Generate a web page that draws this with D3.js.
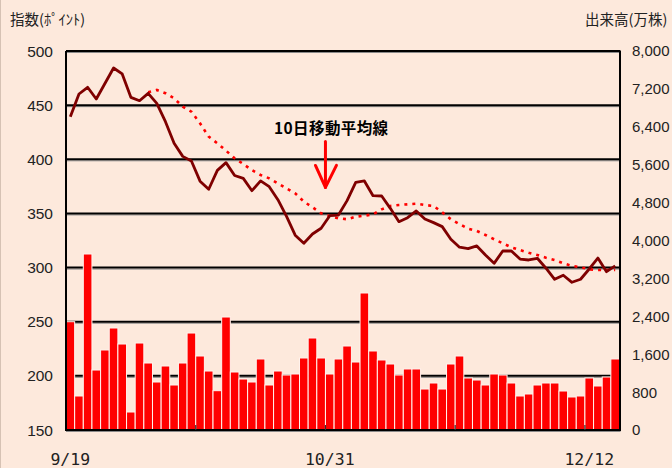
<!DOCTYPE html>
<html><head><meta charset="utf-8">
<script src="https://cdn.jsdelivr.net/npm/d3@7"></script>
<style>
html,body{margin:0;padding:0;background:#FDE9DC;}
svg{display:block;}
</style></head>
<body>
<svg id="chart" width="672" height="468"></svg>
<script>
// ---- data ----
const indexValues = [439.3,460.3,466.5,455.7,470.0,484.3,478.8,457.2,454.1,460.9,
  451.7,434.7,414.8,402.7,398.4,379.8,372.3,389.8,396.9,385.0,
  382.4,371.0,380.0,374.7,362.7,347.3,329.9,322.4,331.0,336.3,
  347.9,348.5,361.8,378.7,380.0,366.4,366.1,354.7,342.4,346.1,
  352.3,344.9,341.5,337.8,326.1,318.8,317.5,320.0,311.6,303.9,
  315.3,315.3,307.9,307.0,308.6,299.4,289.2,292.9,286.4,289.2,
  298.7,308.8,296.2,301.5];
const movingAvg10 = [null,null,null,null,null,null,null,null,null,461.9,
  464.0,461.0,456.3,448.6,444.0,433.2,420.9,414.8,408.0,400.9,
  395.6,390.0,385.5,382.4,377.8,373.2,368.6,360.9,355.7,350.1,
  347.5,345.5,344.6,347.0,347.9,349.2,353.8,356.9,357.8,358.4,
  359.0,357.8,356.9,351.0,344.6,340.2,336.0,333.8,330.1,326.1,
  322.4,318.7,316.2,313.7,311.6,309.1,307.0,303.9,301.5,300.3,
  298.4,297.8,297.8,297.8];
const volume = [2286,718,3715,1266,1689,2153,1815,380,1836,1414,
  1013,1351,950,1414,2047,1562,1245,830,2385,1224,
  1076,1013,1499,950,1245,1161,1182,1520,1942,1520,
  1182,1499,1773,1435,2892,1668,1478,1393,1161,1288,
  1288,865,992,865,1393,1562,1098,1055,950,1182,
  1161,992,718,760,950,992,992,823,697,718,
  1098,929,1119,1499];
const dayIndex = d3.range(volume.length);
const dateLabels = ["9/19","10/31","12/12"];
const dateLabelIndex = [0,30,60];
const leftTicks = [150,200,250,300,350,400,450,500];
const rightTicks = [0,800,1600,2400,3200,4000,4800,5600,6400,7200,8000];
const leftTitle = "指数(ﾎﾟｲﾝﾄ)";
const rightTitle = "出来高(万株)";
const annotationText = "10日移動平均線";

// ---- layout ----
const L = 66, R = 619.5, T = 51, B = 430;
const svg = d3.select("#chart");
const x = d3.scaleBand().domain(dayIndex).range([L, R]).paddingInner(0).paddingOuter(0);
const yL = d3.scaleLinear().domain([150, 500]).range([B, T]);
const yR = d3.scaleLinear().domain([0, 8000]).range([B, T]);
const cx = i => x(i) + x.bandwidth() / 2;

// left edge border
svg.append("line").attr("x1",0.5).attr("x2",0.5).attr("y1",0).attr("y2",468)
  .attr("stroke","#d6c2b4").attr("stroke-width",1);

// gridlines (left axis)
const grid = svg.append("g");
leftTicks.filter(v => v > 150 && v < 500).forEach(v => {
  grid.append("line").attr("x1", L).attr("x2", R).attr("y1", yL(v) + 1.5).attr("y2", yL(v) + 1.5)
    .attr("stroke", "#8a8a8a").attr("stroke-width", 1);
  grid.append("line").attr("x1", L).attr("x2", R).attr("y1", yL(v)).attr("y2", yL(v))
    .attr("stroke", "#000").attr("stroke-width", 2);
});

// bars
svg.append("g").selectAll("rect").data(volume).join("rect")
  .attr("x", (d, i) => x(i))
  .attr("y", d => yR(d))
  .attr("width", x.bandwidth())
  .attr("height", d => B - yR(d))
  .attr("fill", "#FF0000")
  .attr("stroke", "#FFF4EE")
  .attr("stroke-width", 1);

// plot frame
const frame = svg.append("g");
frame.append("line").attr("x1", L).attr("x2", R + 1).attr("y1", T + 1.5).attr("y2", T + 1.5).attr("stroke","#8a8a8a").attr("stroke-width",1);
frame.append("line").attr("x1", L).attr("x2", R + 1).attr("y1", T).attr("y2", T).attr("stroke","#000").attr("stroke-width",2);
frame.append("line").attr("x1", L).attr("x2", L).attr("y1", T).attr("y2", B + 1).attr("stroke","#000").attr("stroke-width",2);
frame.append("line").attr("x1", R + 0.5).attr("x2", R + 0.5).attr("y1", T).attr("y2", B + 1).attr("stroke","#000").attr("stroke-width",2);
frame.append("line").attr("x1", L).attr("x2", R + 1).attr("y1", B + 1.5).attr("y2", B + 1.5).attr("stroke","#8a8a8a").attr("stroke-width",1);
frame.append("line").attr("x1", L).attr("x2", R + 1).attr("y1", B).attr("y2", B).attr("stroke","#000").attr("stroke-width",2);

// bottom tick marks every 15 days
[15,30,45,60].forEach(i => {
  frame.append("line").attr("x1", x(i)).attr("x2", x(i)).attr("y1", B).attr("y2", B - 5)
    .attr("stroke", "#333").attr("stroke-width", 1.2);
});

// moving average (dotted red)
const maLine = d3.line().defined(d => d != null).x((d, i) => cx(i)).y(d => yL(d));
svg.append("path").datum(movingAvg10).attr("d", maLine)
  .attr("fill","none").attr("stroke","#FF0000").attr("stroke-width",2.6)
  .attr("stroke-dasharray","3,5");

// index line
const idxLine = d3.line().x((d, i) => cx(i)).y(d => yL(d));
svg.append("path").datum(indexValues).attr("d", idxLine)
  .attr("fill","none").attr("stroke","#7F0000").attr("stroke-width",2.8)
  .attr("stroke-linejoin","round");

// left axis labels
svg.append("g").selectAll("text").data(leftTicks).join("text")
  .attr("x", 53).attr("y", d => yL(d)).attr("dy", "0.36em")
  .attr("text-anchor","end")
  .attr("font-family","'Liberation Sans', Arial, sans-serif")
  .attr("font-size", 15.5).attr("fill","#222")
  .text(d => d);

// right axis labels
svg.append("g").selectAll("text").data(rightTicks).join("text")
  .attr("x", 632).attr("y", d => yR(d)).attr("dy", "0.36em")
  .attr("text-anchor","start")
  .attr("font-family","'Liberation Sans Narrow', 'Liberation Sans', Arial, sans-serif")
  .attr("font-size", 15).attr("fill","#222")
  .text(d => d3.format(",")(d));

// x labels
svg.append("g").selectAll("text").data(dateLabels).join("text")
  .attr("x", (d, k) => cx(dateLabelIndex[k])).attr("y", 465)
  .attr("text-anchor","middle")
  .attr("font-family","'DejaVu Sans Mono', monospace")
  .attr("font-size", 16.5).attr("fill","#222")
  .text(d => d);

// axis titles
svg.append("text").attr("x", 10).attr("y", 25)
  .attr("font-family","'Noto Sans CJK JP', sans-serif").attr("font-size", 14.5).attr("fill","#222")
  .text(leftTitle);
svg.append("text").attr("x", 585).attr("y", 25)
  .attr("font-family","'Noto Sans CJK JP', sans-serif").attr("font-size", 14.5).attr("fill","#222")
  .text(rightTitle);

// annotation
svg.append("text").attr("x", 274).attr("y", 134)
  .attr("font-family","'Noto Sans CJK JP', sans-serif").attr("font-weight","bold")
  .attr("font-size", 15.5).attr("letter-spacing", 0.4).attr("fill","#000")
  .text(annotationText);
const ax = x(30), tipY = yL(374), topY = yL(416.5);
const arrow = svg.append("g").attr("stroke","#FF0000").attr("stroke-width",3).attr("fill","none")
  .attr("stroke-linecap","round").attr("stroke-linejoin","round");
arrow.append("line").attr("x1", ax).attr("x2", ax).attr("y1", topY).attr("y2", tipY);
arrow.append("polyline").attr("points", `${ax-10},${tipY-22} ${ax},${tipY} ${ax+11},${tipY-22}`);
</script>
</body></html>
